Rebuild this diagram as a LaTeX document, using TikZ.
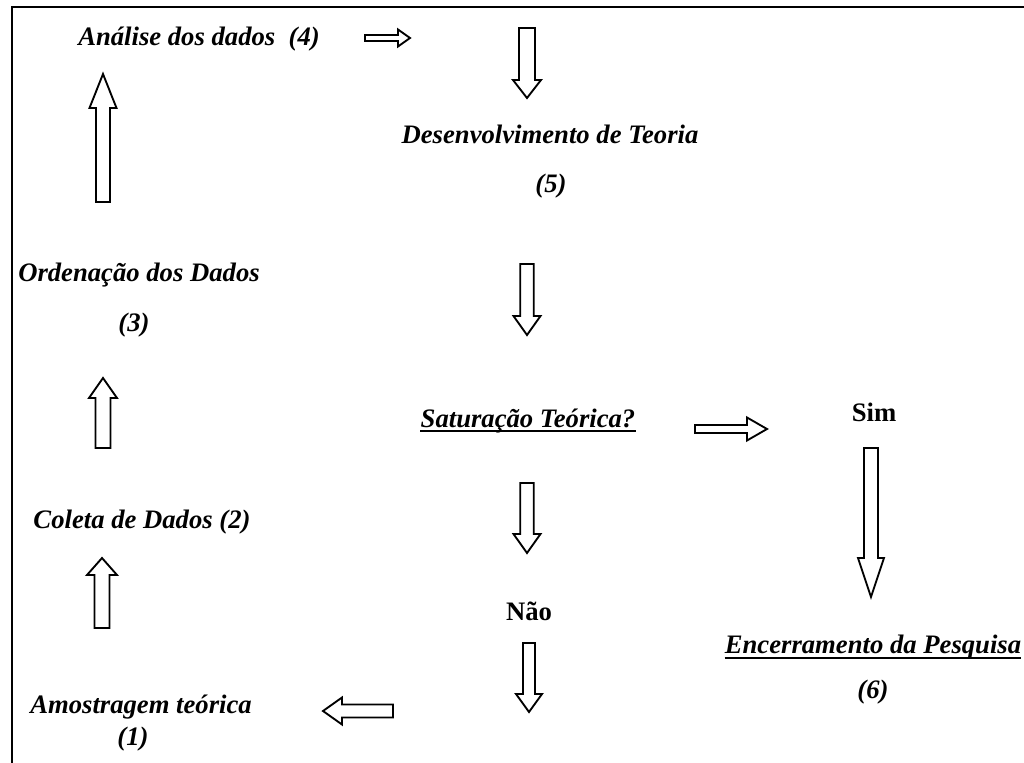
\documentclass[tikz,border=0pt]{standalone}
\usepackage{fontspec}
\setmainfont{Liberation Serif}
\begin{document}
\begin{tikzpicture}[x=0.75pt,y=-0.75pt,
  lbl/.style={inner sep=0pt,anchor=base,font=\fontsize{20}{24}\selectfont\bfseries\itshape},
  ans/.style={inner sep=0pt,anchor=base,font=\fontsize{20}{24}\selectfont\bfseries},
  frame/.style={line width=1.8pt,black},
  arrowline/.style={line width=1.4pt,black,line join=miter,fill=white},
  uline/.style={line width=1.6pt,black}]
% page extent
\useasboundingbox (0,0) rectangle (1024,763);
% open frame: top edge and left edge
\draw[frame] (1024,7) -- (12,7) -- (12,763);

% hollow block arrow: tail point, direction, length, shaft half-width, head half-width, head length
\newcommand\blockarrow[6]{%
  \draw[arrowline,shift={#1},rotate=#2]
    (0,-#4) -- ({#3-#6},-#4) -- ({#3-#6},-#5) -- (#3,0) -- ({#3-#6},#5)
    -- ({#3-#6},#4) -- (0,#4) -- cycle;}

% steps of the cycle
\node[lbl] (analise) at (199,46) {Análise dos dados\ \ (4)};
\node[lbl] (teoria)  at (550,144) {Desenvolvimento de Teoria};
\node[lbl] (n5)      at (551,193) {(5)};
\node[lbl] (satur)   at (528,427) {Saturação Teórica?};
\node[ans] (sim)     at (874,421) {Sim};
\node[ans] (nao)     at (529,620) {Não};
\node[lbl] (encerr)  at (873,653) {Encerramento da Pesquisa};
\node[lbl] (n6)      at (873,698) {(6)};
\node[lbl] (amostra) at (141,713) {Amostragem teórica};
\node[lbl] (n1)      at (133,745) {(1)};
\node[lbl] (coleta)  at (142,528) {Coleta de Dados (2)};
\node[lbl] (ordena)  at (139,281) {Ordenação dos Dados};
\node[lbl] (n3)      at (134,331) {(3)};

% underlined labels
\draw[uline] ([yshift=-3pt]satur.base west) -- ([yshift=-3pt]satur.base east);
\draw[uline] ([yshift=-3.5pt]encerr.base west) -- ([yshift=-3.5pt]encerr.base east);

% arrows between the steps
\blockarrow{(365,38)}{0}{45}{3}{8.5}{12}
\blockarrow{(527,28)}{-90}{70}{8}{14}{18}
\blockarrow{(527,264)}{-90}{71}{6.7}{13.5}{19}
\blockarrow{(527,483)}{-90}{70}{6.7}{13.5}{19}
\blockarrow{(695,429)}{0}{72}{4}{11.5}{20}
\blockarrow{(871,448)}{-90}{149}{7}{13}{39}
\blockarrow{(529,643)}{-90}{69}{6}{13}{18}
\blockarrow{(393,711)}{180}{70}{6.5}{13.5}{19}
\blockarrow{(102,628)}{90}{70}{7.5}{15}{17}
\blockarrow{(103,448)}{90}{70}{7.5}{14}{20}
\blockarrow{(103,202)}{90}{128}{7}{13.5}{34}
\end{tikzpicture}
\end{document}
